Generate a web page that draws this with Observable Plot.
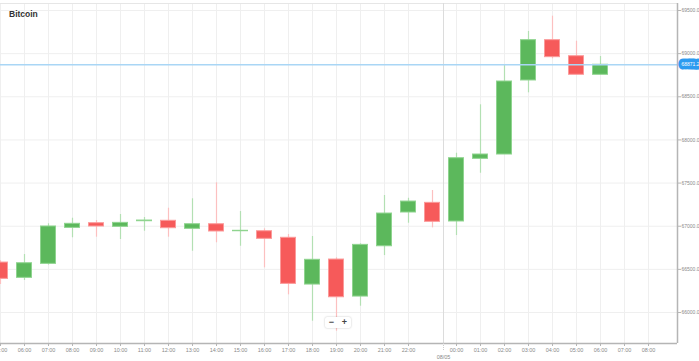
<!DOCTYPE html>
<html>
<head>
<meta charset="utf-8">
<script src="https://cdn.jsdelivr.net/npm/d3@7"></script>
<script src="https://cdn.jsdelivr.net/npm/@observablehq/plot@0.6"></script>
<style>
  html, body { margin: 0; padding: 0; background: #fff; }
  #wrap { position: relative; width: 699px; height: 361px; overflow: hidden; font-family: "Liberation Sans", Arial, sans-serif; }
  #title { position: absolute; left: 9px; top: 9px; font-size: 8.5px; font-weight: bold; color: #333; }
  #zoom { position: absolute; left: 325px; top: 317px; width: 26px; height: 11px; background: #fff;
          box-shadow: 0 0 2px rgba(0,0,0,0.25); border-radius: 2px; display: flex; font-size: 9px; font-weight: bold; color: #444; }
  #zoom span { flex: 1; text-align: center; line-height: 11px; }
  svg { display: block; }
</style>
</head>
<body>
<div id="wrap">
  <div id="chart"></div>
  <div id="title">Bitcoin</div>
  <div id="zoom"><span>−</span><span>+</span></div>
</div>
<script>
const times = [
  "2024-05-07T05:00Z","2024-05-07T06:00Z","2024-05-07T07:00Z","2024-05-07T08:00Z","2024-05-07T09:00Z",
  "2024-05-07T10:00Z","2024-05-07T11:00Z","2024-05-07T12:00Z","2024-05-07T13:00Z","2024-05-07T14:00Z",
  "2024-05-07T15:00Z","2024-05-07T16:00Z","2024-05-07T17:00Z","2024-05-07T18:00Z","2024-05-07T19:00Z",
  "2024-05-07T20:00Z","2024-05-07T21:00Z","2024-05-07T22:00Z","2024-05-07T23:00Z","2024-05-08T00:00Z",
  "2024-05-08T01:00Z","2024-05-08T02:00Z","2024-05-08T03:00Z","2024-05-08T04:00Z","2024-05-08T05:00Z",
  "2024-05-08T06:00Z"
];
const opens  = [66579,66402,66564,66981,67035,66993,67058,67063,66970,67023,66942,66942,66866,66324,66614,66185,66768,67159,67271,67055,67781,67831,68689,69156,68970,68755];
const highs  = [66600,66672,67028,67093,67066,67136,67101,67209,67318,67503,67170,66970,66904,66881,66634,66796,67356,67324,67414,67846,68407,68871,69257,69434,69144,68967];
const lows   = [66324,66371,66550,66866,66873,66846,66942,66873,66710,66808,66768,66518,66205,65899,65783,66073,66660,67035,66981,66892,67614,67831,68546,68940,68755,68755];
const closes = [66390,66571,66997,67028,66997,67039,67066,66977,67023,66939,66947,66854,66332,66611,66177,66784,67147,67286,67051,67788,67831,68677,69156,68959,68755,68871.2];

const currentPrice = 68871.2;
const yTicks = [66000,66500,67000,67500,68000,68500,69000,69500];
const xTickTimes = [
  "2024-05-07T05:00Z","2024-05-07T06:00Z","2024-05-07T07:00Z","2024-05-07T08:00Z","2024-05-07T09:00Z",
  "2024-05-07T10:00Z","2024-05-07T11:00Z","2024-05-07T12:00Z","2024-05-07T13:00Z","2024-05-07T14:00Z",
  "2024-05-07T15:00Z","2024-05-07T16:00Z","2024-05-07T17:00Z","2024-05-07T18:00Z","2024-05-07T19:00Z",
  "2024-05-07T20:00Z","2024-05-07T21:00Z","2024-05-07T22:00Z","2024-05-08T00:00Z",
  "2024-05-08T01:00Z","2024-05-08T02:00Z","2024-05-08T03:00Z","2024-05-08T04:00Z","2024-05-08T05:00Z",
  "2024-05-08T06:00Z","2024-05-08T07:00Z","2024-05-08T08:00Z"
];
const dateMarkerTime = "2024-05-07T23:27:30Z";
const dateMarkerLabel = "08/05";
const xDomain = ["2024-05-07T05:00Z", "2024-05-08T09:12:30Z"];
const yDomain = [65641, 69581];

const candles = times.map((t, i) => ({
  t: new Date(t), o: opens[i], h: highs[i], l: lows[i], c: closes[i], up: closes[i] >= opens[i]
}));
const xTicks = xTickTimes.map(d => new Date(d));
const dateMarker = new Date(dateMarkerTime);
const halfBody = 18.75 * 60 * 1000;

const GREEN = "#5cb85c", RED = "#f65a5a";
const GREEN_EDGE = "#8fd48f", RED_EDGE = "#fb9a9a";

const chart = Plot.plot({
  width: 699,
  height: 361,
  marginLeft: 0,
  marginRight: 22,
  marginTop: 3,
  marginBottom: 18,
  style: { fontFamily: "'Liberation Sans', Arial, sans-serif", background: "#fff" },
  x: { type: "utc", domain: xDomain.map(d => new Date(d)), label: null },
  y: { domain: yDomain, label: null },
  marks: [
    Plot.gridX(xTicks, { stroke: "#efefef", strokeOpacity: 1 }),
    Plot.gridY(yTicks, { stroke: "#efefef", strokeOpacity: 1 }),
    Plot.ruleY([yDomain[1]], { stroke: "#e6e6e6" }),
    Plot.ruleX([dateMarker], { stroke: "#dcdcdc" }),
    Plot.ruleX(candles, {
      x: "t", y1: "l", y2: "h",
      stroke: d => d.up ? "#b3e0b3" : "#fcc0c0",
      strokeWidth: 1.2, clip: true
    }),
    Plot.rect(candles, {
      x1: d => new Date(+d.t - halfBody),
      x2: d => new Date(+d.t + halfBody),
      y1: "o", y2: "c",
      fill: d => d.up ? GREEN : RED,
      stroke: d => d.up ? GREEN_EDGE : RED_EDGE,
      strokeWidth: 1, clip: true
    }),
    Plot.ruleY([currentPrice], { stroke: "#a9d6f5", strokeWidth: 1.3 }),
    Plot.ruleY([yDomain[0]], { stroke: "#b5b5b5", strokeWidth: 1.5 }),
    Plot.ruleX([new Date(xDomain[1])], { stroke: "#b5b5b5", strokeWidth: 1.5 }),
    Plot.axisX({
      ticks: xTicks, tickFormat: d3.utcFormat("%H:%M"), label: null,
      fontSize: 5.5, tickSize: 3, tickPadding: 2, color: "#8a8a8a", stroke: "#b5b5b5"
    }),
    Plot.ruleX([dateMarker], { y1: yDomain[0], y2: yDomain[0], insetBottom: -8, stroke: "#ccc", strokeDasharray: "1,1" }),
    Plot.text([dateMarkerLabel], {
      x: dateMarker, frameAnchor: "bottom", dy: 15, fontSize: 5.5, fill: "#8a8a8a"
    }),
    Plot.axisY({
      anchor: "right", ticks: yTicks, tickFormat: d => d.toFixed(1), label: null,
      fontSize: 5, tickSize: 3, tickPadding: 1, color: "#8a8a8a", stroke: "#b5b5b5"
    }),
    Plot.text([currentPrice], {
      y: d => d, frameAnchor: "right", dx: 4, textAnchor: "start",
      text: d => d.toFixed(1), fontSize: 5, fill: "#fff",
      stroke: "#2d9bf0", strokeWidth: 7, strokeLinejoin: "round", paintOrder: "stroke"
    })
  ]
});
document.getElementById("chart").appendChild(chart);
</script>
</body>
</html>
